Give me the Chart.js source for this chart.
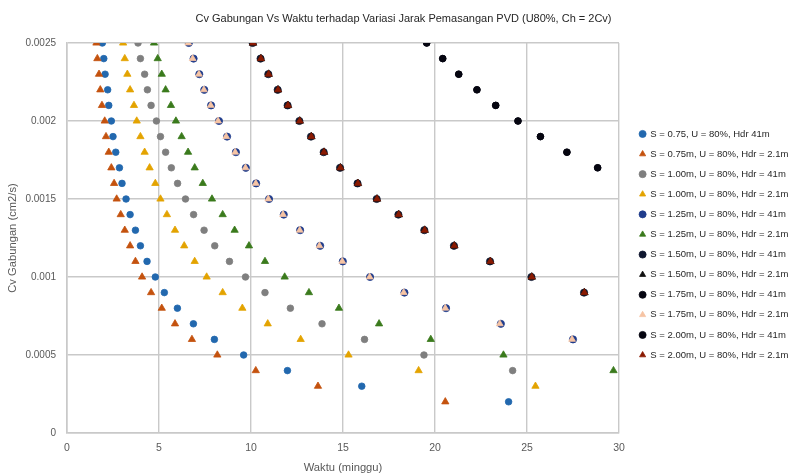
<!DOCTYPE html>
<html>
<head>
<meta charset="utf-8">
<script src="https://cdn.jsdelivr.net/npm/chart.js@4/dist/chart.umd.min.js"></script>
<style>
  html, body { margin: 0; padding: 0; background: #ffffff; }
  #wrap { width: 807px; height: 475px; }
</style>
</head>
<body>
<div id="wrap"><canvas id="cv" width="807" height="475"></canvas></div>
<script>
// Cv gabungan levels (cm2/s), from 0.0025 down to 0.0002
const cvLevels = [0.0025, 0.0024, 0.0023, 0.0022, 0.0021, 0.0020, 0.0019, 0.0018,
                  0.0017, 0.0016, 0.0015, 0.0014, 0.0013, 0.0012, 0.0011, 0.0010,
                  0.0009, 0.0008, 0.0007, 0.0006, 0.0005, 0.0004, 0.0003, 0.0002];

// Waktu (minggu) for each level, per series
const s075Hdr41  = [1.92, 2.00, 2.07, 2.21, 2.27, 2.41, 2.50, 2.65, 2.85, 2.99, 3.21, 3.43,
                    3.72, 3.99, 4.35, 4.80, 5.29, 6.00, 6.87, 8.01, 9.60, 11.98, 16.02, 24.00];
const s075Hdr21  = [1.60, 1.65, 1.74, 1.81, 1.90, 2.05, 2.12, 2.27, 2.41, 2.56, 2.70, 2.92,
                    3.14, 3.43, 3.72, 4.08, 4.57, 5.15, 5.87, 6.79, 8.17, 10.26, 13.64, 20.56];
const s100Hdr41  = [3.86, 3.99, 4.22, 4.37, 4.57, 4.86, 5.08, 5.36, 5.67, 6.01, 6.44, 6.88,
                    7.45, 8.03, 8.83, 9.70, 10.76, 12.14, 13.86, 16.17, 19.40, 24.22];
const s100Hdr21  = [3.05, 3.14, 3.28, 3.43, 3.64, 3.79, 3.99, 4.22, 4.49, 4.80, 5.08, 5.43,
                    5.87, 6.37, 6.94, 7.59, 8.46, 9.53, 10.91, 12.70, 15.30, 19.11, 25.46];
const s125Hdr41  = [6.62, 6.88, 7.19, 7.46, 7.83, 8.26, 8.70, 9.18, 9.72, 10.28, 10.98, 11.78,
                    12.67, 13.76, 14.99, 16.47, 18.34, 20.60, 23.58, 27.50];
const s125Hdr21  = [4.73, 4.93, 5.15, 5.36, 5.65, 5.92, 6.23, 6.58, 6.94, 7.38, 7.88, 8.46,
                    9.11, 9.89, 10.76, 11.83, 13.15, 14.78, 16.96, 19.77, 23.72, 29.70];
const s150Hdr41  = [10.09, 10.52, 10.94, 11.45, 11.99, 12.63, 13.26, 13.95, 14.84, 15.79, 16.83,
                    18.01, 19.42, 21.03, 22.99, 25.24, 28.10];
const s150Hdr21  = [10.11, 10.54, 10.96, 11.47, 12.01, 12.65, 13.28, 13.97, 14.86, 15.81, 16.85,
                    18.03, 19.44, 21.05, 23.01, 25.26, 28.12];
const s175Hdr41  = [19.55, 20.42, 21.29, 22.28, 23.30, 24.51, 25.73, 27.17, 28.84];
const s175Hdr21  = [6.59, 6.83, 7.17, 7.44, 7.81, 8.21, 8.65, 9.14, 9.70, 10.26, 10.94, 11.74,
                    12.65, 13.72, 14.96, 16.45, 18.30, 20.56, 23.52, 27.45];
const s200Hdr41  = [19.55, 20.42, 21.29, 22.28, 23.30, 24.51, 25.73, 27.17, 28.84];
const s200Hdr21  = [10.11, 10.54, 10.96, 11.47, 12.01, 12.65, 13.28, 13.97, 14.86, 15.81, 16.85,
                    18.03, 19.44, 21.05, 23.01, 25.26, 28.12];

const seriesNames = [
  'S = 0.75, U = 80%, Hdr 41m',
  'S = 0.75m, U = 80%, Hdr = 2.1m',
  'S = 1.00m, U = 80%, Hdr = 41m',
  'S = 1.00m, U = 80%, Hdr = 2.1m',
  'S = 1.25m, U = 80%, Hdr = 41m',
  'S = 1.25m, U = 80%, Hdr = 2.1m',
  'S = 1.50m, U = 80%, Hdr = 41m',
  'S = 1.50m, U = 80%, Hdr = 2.1m',
  'S = 1.75m, U = 80%, Hdr = 41m',
  'S = 1.75m, U = 80%, Hdr = 2.1m',
  'S = 2.00m, U = 80%, Hdr = 41m',
  'S = 2.00m, U = 80%, Hdr = 2.1m'
];
const seriesTimes = [s075Hdr41, s075Hdr21, s100Hdr41, s100Hdr21, s125Hdr41, s125Hdr21,
                     s150Hdr41, s150Hdr21, s175Hdr41, s175Hdr21, s200Hdr41, s200Hdr21];

const xTickLabels = ['0', '5', '10', '15', '20', '25', '30'];
const yTickLabels = ['0', '0.0005', '0.001', '0.0015', '0.002', '0.0025'];

// marker look per series: [fill, border, style, radius]
const markerLook = [
  ['#2268AE', '#2268AE', 'circle',   3.3],
  ['#C4520E', '#C4520E', 'triangle', 4.2],
  ['#7F7F7F', '#7F7F7F', 'circle',   3.3],
  ['#E3A300', '#E3A300', 'triangle', 4.2],
  ['#203C8C', '#203C8C', 'circle',   3.6],
  ['#3A7A1C', '#3A7A1C', 'triangle', 4.2],
  ['#101830', '#101830', 'circle',   3.6],
  ['#111111', '#111111', 'triangle', 4.4],
  ['#050510', '#050510', 'circle',   3.3],
  ['#F6C4A4', '#F6C4A4', 'triangle', 3.9],
  ['#050510', '#050510', 'circle',   3.3],
  ['#8A1A02', '#8A1A02', 'triangle', 3.9]
];

const datasets = seriesNames.map((name, i) => ({
  label: name,
  data: seriesTimes[i].map((t, k) => ({ x: t, y: cvLevels[k] })),
  backgroundColor: markerLook[i][0],
  borderColor: markerLook[i][1],
  borderWidth: 0.8,
  pointStyle: markerLook[i][2],
  pointRadius: markerLook[i][3],
  pointHoverRadius: markerLook[i][3],
  showLine: false,
  order: seriesNames.length - i   // later series sit on top
}));

const gridColor = '#C9C9C9';
const tickColor = '#595959';
const FONT = '"Liberation Sans", Arial, sans-serif';

// legend column: fixed width, then nudged into place beside the plot
const legendPlacePlugin = {
  id: 'legendPlace',
  beforeLayout(chart) {
    const lg = chart.legend;
    if (lg && !lg._fixedW) {
      const fit = lg.fit;
      lg.fit = function () { fit.call(this); this.width = 188; };
      lg._fixedW = true;
    }
  },
  afterLayout(chart) {
    const lg = chart.legend;
    if (!lg) return;
    lg.left = 629; lg.right = 807;
    lg.top += 7; lg.bottom += 7;
  }
};

new Chart(document.getElementById('cv'), {
  type: 'scatter',
  data: { datasets },
  plugins: [legendPlacePlugin],
  options: {
    responsive: false,
    devicePixelRatio: 1,
    animation: false,
    layout: { padding: { left: 0, right: 0, top: 0, bottom: 0 } },
    plugins: {
      tooltip: { enabled: false },
      title: {
        display: true,
        text: 'Cv Gabungan Vs Waktu terhadap Variasi Jarak Pemasangan PVD (U80%, Ch = 2Cv)',
        color: '#262626',
        font: { family: FONT, size: 11, weight: 'normal' },
        padding: { top: 12, bottom: 17.8 }
      },
      legend: {
        position: 'right',
        align: 'center',
        labels: {
          usePointStyle: true,
          boxWidth: 6,
          boxHeight: 5,
          padding: 10.6,
          color: '#262626',
          font: { family: FONT, size: 9.5 },
          sort: (a, b) => a.datasetIndex - b.datasetIndex
        }
      }
    },
    scales: {
      x: {
        type: 'linear',
        min: 0, max: 30,
        afterFit(scale) { scale.height = 42; },
        grid: { color: gridColor, lineWidth: 1.4, drawTicks: false },
        border: { color: gridColor, width: 1.6 },
        ticks: {
          stepSize: 5, padding: 9, color: tickColor,
          font: { family: FONT, size: 10.5 },
          callback: (v, i) => xTickLabels[i]
        },
        title: {
          display: true, text: 'Waktu (minggu)', color: tickColor,
          font: { family: FONT, size: 11.2 }, padding: { top: 0, bottom: 0 }
        }
      },
      y: {
        type: 'linear',
        min: 0, max: 0.0025,
        afterFit(scale) { scale.width = 67; },
        grid: { color: gridColor, lineWidth: 1.4, drawTicks: false },
        border: { color: gridColor, width: 1.6 },
        ticks: {
          stepSize: 0.0005, padding: 11, color: tickColor,
          font: { family: FONT, size: 10 },
          callback: (v, i) => yTickLabels[i]
        },
        title: {
          display: true, text: 'Cv Gabungan (cm2/s)', color: tickColor,
          font: { family: FONT, size: 11.2 }, padding: { top: 6, bottom: 0 }
        }
      }
    }
  }
});
</script>
</body>
</html>
